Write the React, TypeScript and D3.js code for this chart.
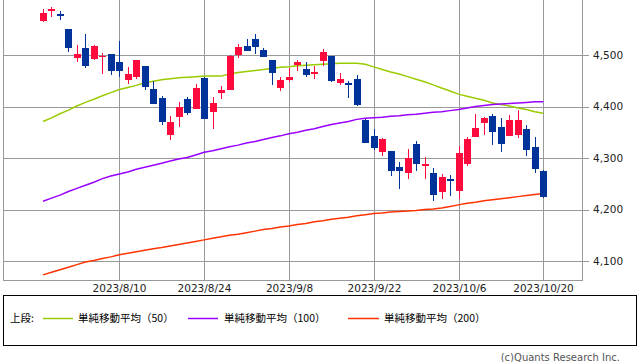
import React from 'react';
import * as d3 from 'd3';

// daily candles, 2023/7/28 - 2023/10/20
const dates = [
  '2023/7/28', '2023/7/31', '2023/8/1', '2023/8/2', '2023/8/3', '2023/8/4', '2023/8/7', '2023/8/8', '2023/8/9', '2023/8/10',
  '2023/8/11', '2023/8/14', '2023/8/15', '2023/8/16', '2023/8/17', '2023/8/18', '2023/8/21', '2023/8/22', '2023/8/23', '2023/8/24',
  '2023/8/25', '2023/8/28', '2023/8/29', '2023/8/30', '2023/8/31', '2023/9/1', '2023/9/5', '2023/9/6', '2023/9/7', '2023/9/8',
  '2023/9/11', '2023/9/12', '2023/9/13', '2023/9/14', '2023/9/15', '2023/9/18', '2023/9/19', '2023/9/20', '2023/9/21', '2023/9/22',
  '2023/9/25', '2023/9/26', '2023/9/27', '2023/9/28', '2023/9/29', '2023/10/2', '2023/10/3', '2023/10/4', '2023/10/5', '2023/10/6',
  '2023/10/9', '2023/10/10', '2023/10/11', '2023/10/12', '2023/10/13', '2023/10/16', '2023/10/17', '2023/10/18', '2023/10/19', '2023/10/20',
];
const opens = [
  4566, 4585, 4579, 4551, 4494, 4514, 4492, 4498, 4502, 4487,
  4451, 4458, 4479, 4434, 4416, 4345, 4380, 4415, 4396, 4455,
  4389, 4426, 4433, 4500, 4517, 4531, 4510, 4490, 4435, 4451,
  4481, 4473, 4463, 4488, 4498, 4445, 4445, 4453, 4374, 4342,
  4311, 4313, 4283, 4270, 4328, 4285, 4270, 4234, 4259, 4235,
  4289, 4340, 4367, 4381, 4360, 4342, 4345, 4357, 4321, 4274,
];
const highs = [
  4590, 4594, 4585, 4551, 4519, 4540, 4520, 4503, 4502, 4527,
  4476, 4490, 4479, 4450, 4421, 4382, 4408, 4419, 4443, 4458,
  4418, 4440, 4500, 4522, 4532, 4541, 4514, 4490, 4458, 4474,
  4491, 4487, 4479, 4512, 4498, 4466, 4450, 4461, 4376, 4357,
  4339, 4313, 4292, 4317, 4333, 4301, 4281, 4269, 4267, 4324,
  4340, 4385, 4379, 4386, 4377, 4383, 4394, 4364, 4340, 4277,
];
const lows = [
  4564, 4573, 4568, 4506, 4486, 4475, 4491, 4464, 4461, 4458,
  4444, 4453, 4432, 4404, 4365, 4335, 4360, 4383, 4396, 4376,
  4356, 4415, 4432, 4494, 4507, 4501, 4496, 4442, 4430, 4448,
  4468, 4457, 4454, 4479, 4447, 4442, 4417, 4401, 4329, 4316,
  4303, 4266, 4239, 4260, 4275, 4260, 4216, 4220, 4226, 4220,
  4284, 4340, 4345, 4325, 4312, 4342, 4338, 4304, 4270, 4223,
];
const closes = [
  4582, 4589, 4577, 4513, 4502, 4478, 4518, 4499, 4468, 4469,
  4464, 4490, 4438, 4404, 4370, 4370, 4400, 4388, 4436, 4376,
  4406, 4433, 4498, 4515, 4508, 4516, 4497, 4465, 4451, 4457,
  4487, 4462, 4467, 4505, 4450, 4454, 4444, 4402, 4330, 4320,
  4337, 4274, 4275, 4300, 4288, 4288, 4229, 4264, 4258, 4309,
  4336, 4358, 4377, 4350, 4328, 4374, 4373, 4315, 4278, 4224,
];
const sma50 = [
  4371, 4378, 4386, 4393, 4401, 4408, 4414, 4421, 4427, 4433,
  4437, 4441, 4446, 4449, 4452, 4454, 4456, 4457, 4458, 4459,
  4459, 4459, 4463, 4466, 4468, 4470, 4472, 4474, 4476, 4477,
  4479, 4480, 4481, 4482, 4483, 4484, 4484, 4484, 4482, 4477,
  4472, 4467, 4463, 4458, 4453, 4448, 4442, 4436, 4430, 4424,
  4420, 4416, 4412, 4407, 4404, 4401, 4397, 4394, 4390, 4387,
];
const sma100 = [
  4216, 4222, 4228, 4235, 4241, 4247, 4253, 4260, 4265, 4269,
  4273, 4278, 4282, 4286, 4290, 4294, 4298, 4301, 4306, 4311,
  4314, 4318, 4322, 4325, 4329, 4332, 4336, 4340, 4343, 4347,
  4350, 4354, 4357, 4361, 4365, 4368, 4371, 4375, 4377, 4378,
  4379, 4381, 4382, 4384, 4385, 4387, 4389, 4390, 4392, 4394,
  4397, 4400, 4402, 4404, 4405, 4406, 4407, 4408, 4409, 4409,
];
const sma200 = [
  4073, 4078, 4083, 4088, 4093, 4098, 4101, 4105, 4108, 4112,
  4115, 4118, 4121, 4124, 4126, 4129, 4132, 4135, 4138, 4141,
  4144, 4147, 4150, 4152, 4155, 4158, 4161, 4163, 4166, 4168,
  4171, 4173, 4176, 4178, 4181, 4183, 4185, 4188, 4190, 4192,
  4193, 4195, 4196, 4197, 4198, 4200, 4201, 4203, 4206, 4209,
  4212, 4214, 4217, 4219, 4221, 4223, 4225, 4227, 4229, 4231,
];
const dateTicks = ['2023/8/10', '2023/8/24', '2023/9/8', '2023/9/22', '2023/10/6', '2023/10/20'];
const priceTicks = [4100, 4200, 4300, 4400, 4500];
const maLabels = ['単純移動平均（50）', '単純移動平均（100）', '単純移動平均（200）'];
const maColors = ['#99cc00', '#9900ff', '#ff3300'];

const UP = '#ff0a3c';
const DOWN = '#003399';
const GRID = '#999999';

export default function App() {
  const left = 3, right = 582, top = 0, bottom = 280;
  const x = d3.scalePoint<string>().domain(dates).range([43, 543.3]);
  const y = d3.scaleLinear().domain([4100, 4500]).range([261, 55]);
  const fmt = d3.format(',');

  const line = d3
    .line<number>()
    .x((d, i) => x(dates[i]) as number)
    .y(d => y(d));

  const series = [sma50, sma100, sma200];
  const legendX = [[43, 73, 78], [188, 218, 224], [348, 379, 384]];

  return (
    <svg
      width={638}
      height={362}
      style={{ position: 'absolute', left: 0, top: 0, background: '#fff' }}
      fontFamily="'DejaVu Sans', sans-serif"
    >
      {/* grid */}
      {priceTicks.map(t => (
        <g key={t}>
          <line x1={left} x2={589} y1={Math.round(y(t)) + 0.5} y2={Math.round(y(t)) + 0.5} stroke={GRID} />
          <text x={593} y={y(t)} dy="0.35em" fontSize={10.5} fill="#222">
            {fmt(t)}
          </text>
        </g>
      ))}
      {dateTicks.map(d => {
        const xx = Math.round(x(d) as number) + 0.5;
        return (
          <g key={d}>
            <line x1={xx} x2={xx} y1={top} y2={bottom} stroke={GRID} />
            <text x={xx} y={292} textAnchor="middle" fontSize={10.5} fill="#222">
              {d}
            </text>
          </g>
        );
      })}
      <line x1={left + 0.5} x2={left + 0.5} y1={top} y2={bottom} stroke={GRID} />
      <line x1={right + 0.5} x2={right + 0.5} y1={top} y2={bottom} stroke={GRID} />
      <line x1={left} x2={right + 1} y1={bottom + 0.5} y2={bottom + 0.5} stroke={GRID} />

      {/* moving averages */}
      {series.map((s, k) => (
        <path key={k} d={line(s) || ''} fill="none" stroke={maColors[k]} strokeWidth={1.5} />
      ))}

      {/* candles */}
      <g shapeRendering="crispEdges">
        {dates.map((d, i) => {
          const cx = Math.round(x(d) as number);
          const up = closes[i] >= opens[i];
          const c = up ? UP : DOWN;
          const yTop = y(Math.max(opens[i], closes[i]));
          const yBot = y(Math.min(opens[i], closes[i]));
          return (
            <g key={d}>
              <rect x={cx} y={y(highs[i])} width={1} height={y(lows[i]) - y(highs[i])} fill={c} />
              <rect x={cx - 3} y={yTop} width={7} height={Math.max(1.5, yBot - yTop)} fill={c} />
            </g>
          );
        })}
      </g>

      {/* legend */}
      <rect x={3.5} y={295.5} width={633} height={50} fill="none" stroke="#000" />
      <g fontFamily="'Noto Sans CJK JP', sans-serif" fontSize={10.5} fill="#000">
        <text x={10} y={318} dy="0.35em">上段:</text>
        {maLabels.map((lab, k) => (
          <g key={lab}>
            <line x1={legendX[k][0]} x2={legendX[k][1]} y1={318.5} y2={318.5} stroke={maColors[k]} strokeWidth={1.5} />
            <text x={legendX[k][2]} y={318} dy="0.35em">{lab}</text>
          </g>
        ))}
      </g>
      <text x={620} y={357} dy="0.35em" textAnchor="end" fontSize={10} fill="#555" fontFamily="'DejaVu Sans', sans-serif">
        (c)Quants Research Inc.
      </text>
    </svg>
  );
}
